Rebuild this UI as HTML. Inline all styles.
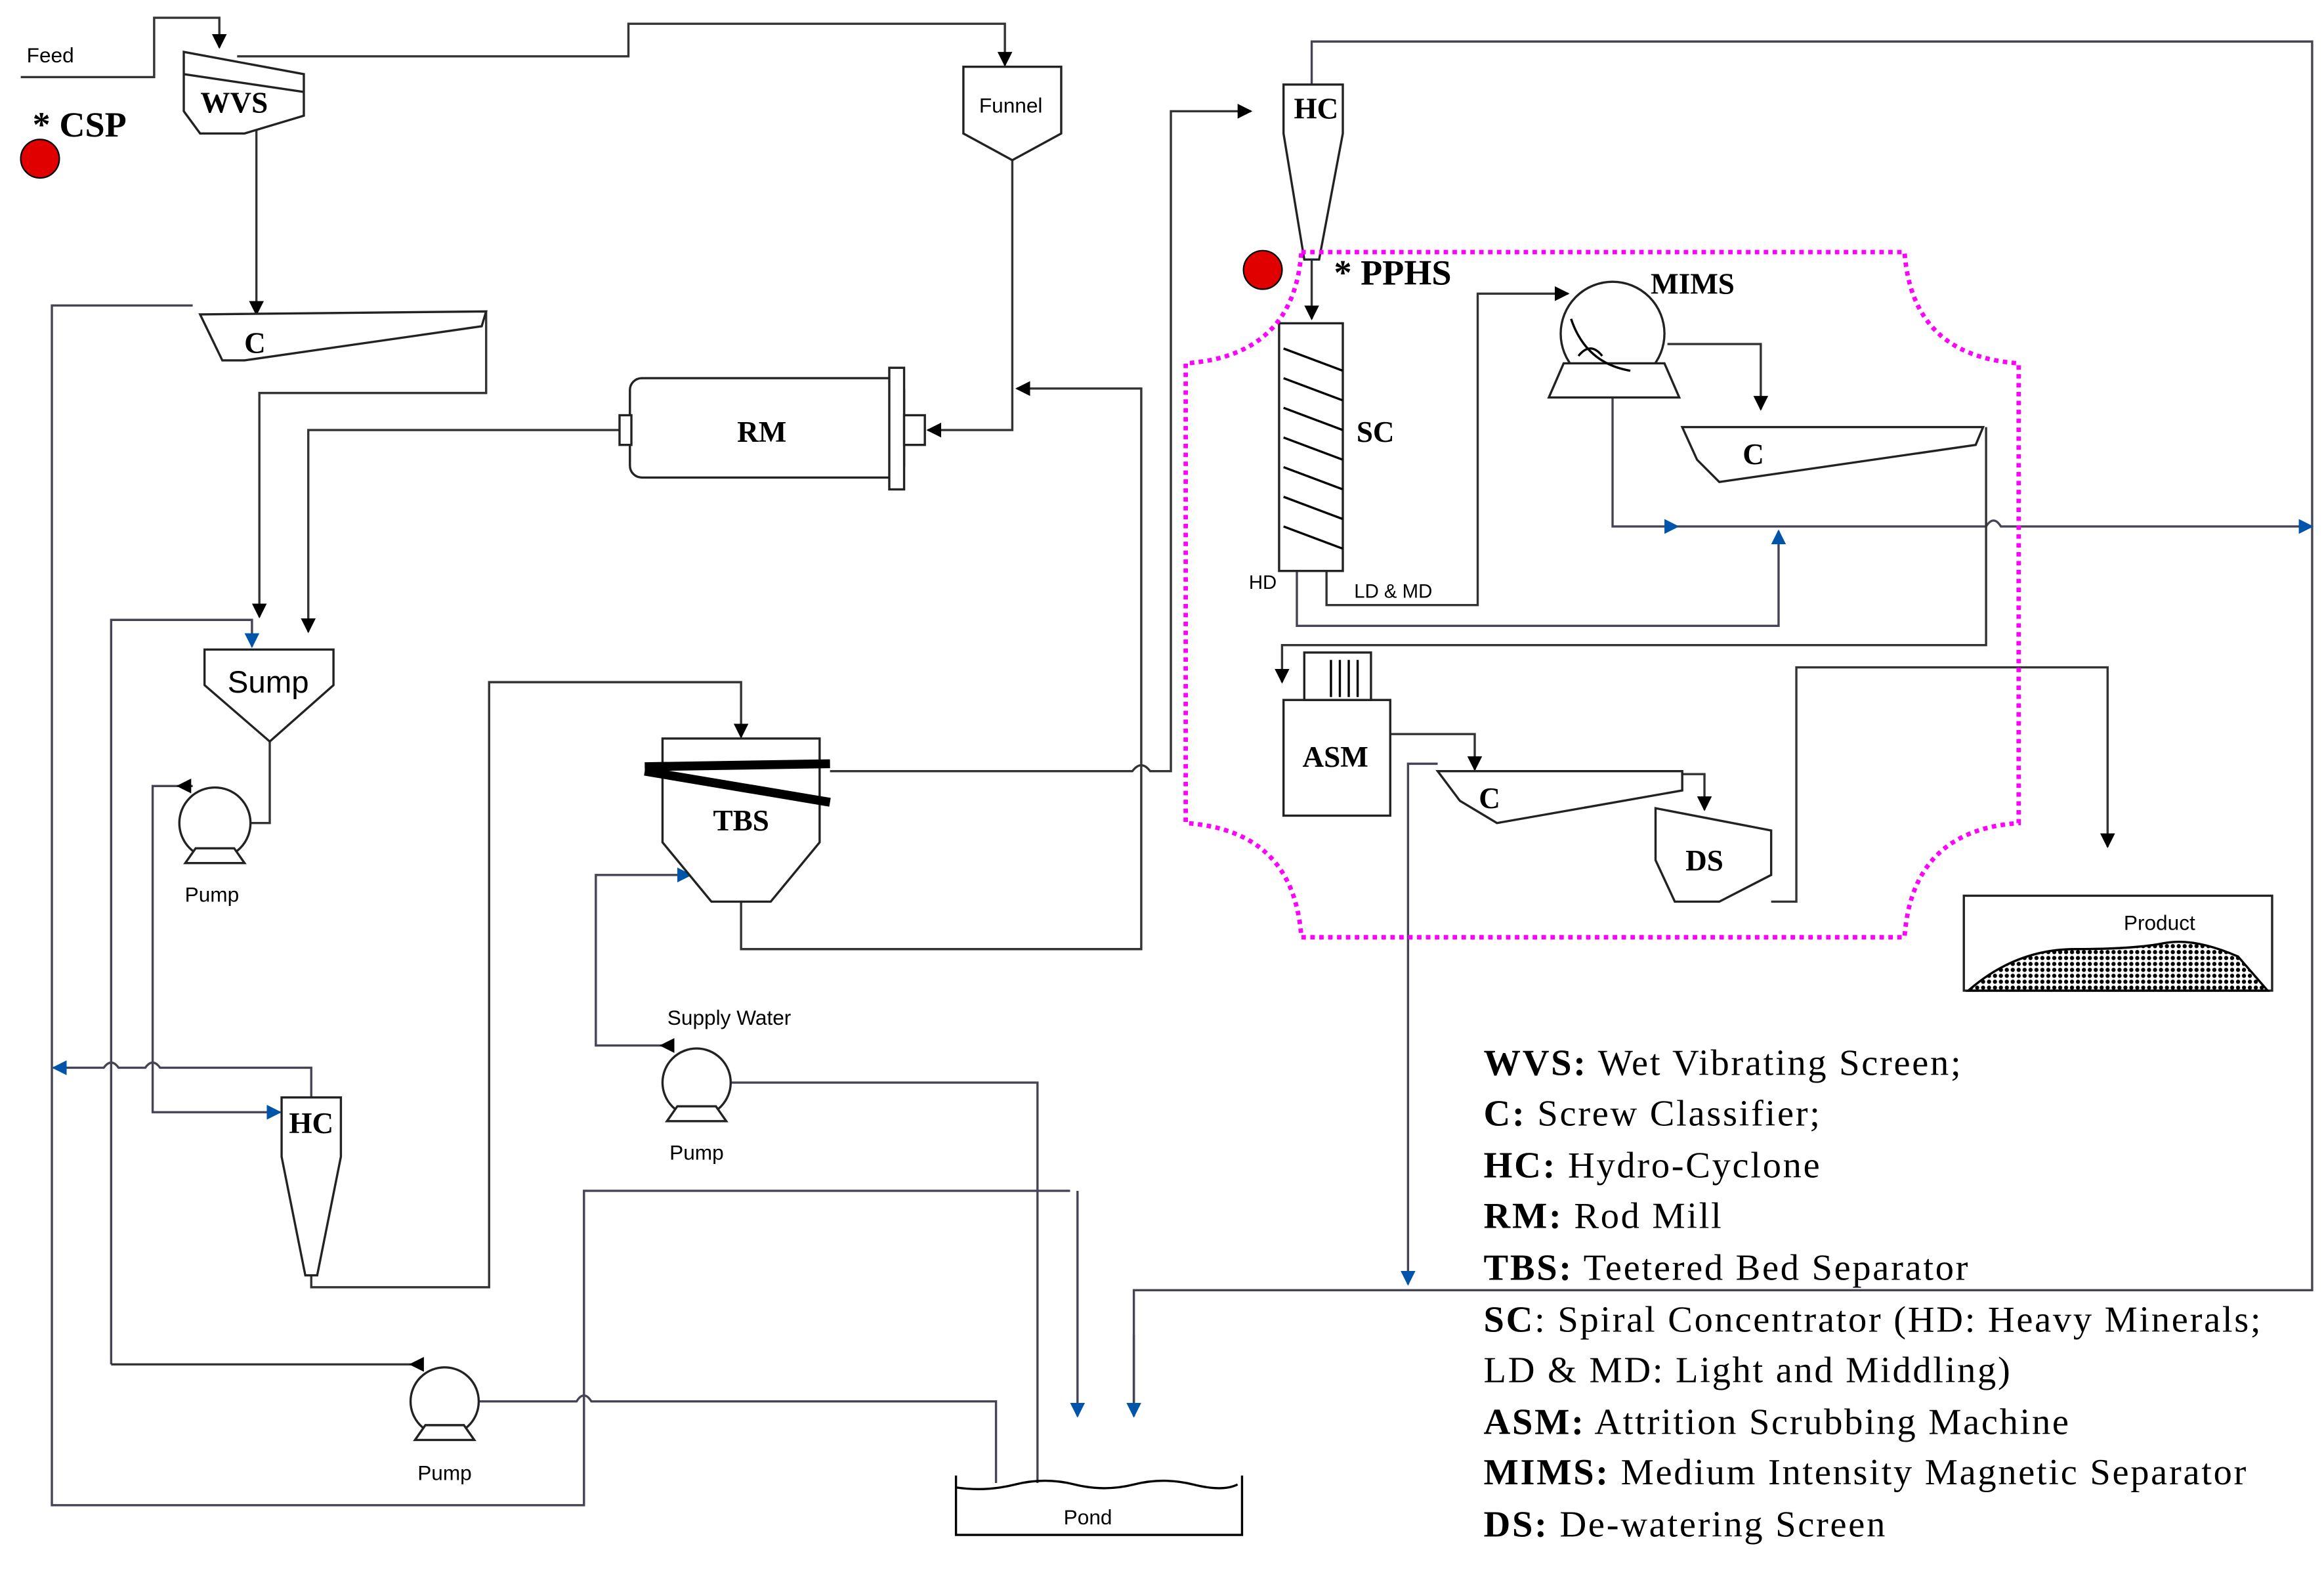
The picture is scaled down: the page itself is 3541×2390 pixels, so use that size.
<!DOCTYPE html>
<html><head><meta charset="utf-8"><style>
html,body{margin:0;padding:0;background:#fff;}
svg{display:block;}
.s{font-family:"Liberation Sans",sans-serif;}
.b{font-family:"Liberation Serif",serif;font-weight:bold;}
.r{font-family:"Liberation Serif",serif;}
</style></head><body>
<svg width="3541" height="2390" viewBox="0 0 1568 1058" preserveAspectRatio="none" xmlns="http://www.w3.org/2000/svg">
<defs>
<marker id="a" markerWidth="10" markerHeight="10" refX="9" refY="5" orient="auto" markerUnits="userSpaceOnUse"><path d="M0,0 L10,5 L0,10 z" fill="#000"/></marker>
<marker id="u" markerWidth="10" markerHeight="10" refX="9" refY="5" orient="auto" markerUnits="userSpaceOnUse"><path d="M0,0 L10,5 L0,10 z" fill="#0055aa"/></marker>
<pattern id="h" width="4" height="4" patternUnits="userSpaceOnUse"><rect width="4" height="4" fill="#fff"/><circle cx="2" cy="2" r="1.4" fill="#000"/></pattern>
</defs>
<g fill="none" stroke="#333" stroke-width="1.5">
<polyline points="14,52 104,52 104,12 148,12 148,32" marker-end="url(#a)"/>
<polyline points="160,38 424,38 424,16 678,16 678,44" marker-end="url(#a)"/>
<polyline points="173,85 173,212" marker-end="url(#a)"/>
<polyline points="683,108 683,290 626,290" marker-end="url(#a)"/>
<polyline points="130,206 35,206 35,1015 394,1015 394,803 722,803 Q727,798 732,803 L727,803 727,955" stroke="#445"/>
<polyline points="727,803 727,955" marker-end="url(#u)" stroke="#445"/>
<polyline points="328,210 328,265 175,265 175,416" marker-end="url(#a)"/>
<polyline points="418,290 208,290 208,426" marker-end="url(#a)"/>
<polyline points="75,920 75,418 170,418 170,436" marker-end="url(#u)" stroke="#445"/>
<polyline points="182,500 182,555 146,555" marker-end="url(#a)"/>
<polyline points="128,530 103,530 103,750 189,750" marker-end="url(#u)" stroke="#445"/>
<polyline points="130,530 120,530" marker-end="url(#a)"/>
<path d="M210,740 V720 H108 Q103,713 98,720 H80 Q75,713 70,720 H36" marker-end="url(#u)" stroke="#445"/>
<polyline points="210,860 210,868 330,868 330,460 500,460 500,497" marker-end="url(#a)"/>
<path d="M560,520 H764 Q770,512 776,520 H790 V75 H844" marker-end="url(#a)"/>
<polyline points="500,608 500,640 770,640 770,262 686,262" marker-end="url(#a)"/>
<polyline points="452,705 402,705 402,590 466,590" marker-end="url(#u)" stroke="#445"/>
<polyline points="455,705 446,705" marker-end="url(#a)"/>
<path d="M470,730 H700 V797 Q700,808 700,810 V1000" stroke="#445"/>
<polyline points="480,730 471,730" marker-end="url(#a)"/>
<polyline points="285,920 75,920"/>
<polyline points="285,920 277,920" marker-end="url(#a)"/>
<path d="M300,945 H389 Q394,937 399,945 H672 V1000" stroke="#445"/>
<polyline points="310,945 301,945" marker-end="url(#a)"/>
<polyline points="885,57 885,28 1560,28 1560,870 765,870 765,955" stroke="#445"/>
<polyline points="765,900 765,955" marker-end="url(#u)" stroke="#445"/>
<polyline points="885,175 885,215" marker-end="url(#a)"/>
<polyline points="875,385 875,422 1200,422 1200,358" marker-end="url(#u)" stroke="#445"/>
<polyline points="895,385 895,408 997,408 997,198 1058,198" marker-end="url(#a)"/>
<polyline points="1125,232 1188,232 1188,276" marker-end="url(#a)"/>
<polyline points="1088,268 1088,355 1132,355" marker-end="url(#u)" stroke="#445"/>
<path d="M1132,355 H1340 Q1345,347 1350,355 H1560" marker-end="url(#u)" stroke="#445"/>
<polyline points="1340,288 1340,435 865,435 865,460" marker-end="url(#a)"/>
<polyline points="938,495 995,495 995,519" marker-end="url(#a)"/>
<polyline points="1135,522 1150,522 1150,546" marker-end="url(#a)"/>
<polyline points="1195,608 1212,608 1212,450 1422,450 1422,571" marker-end="url(#a)"/>
<polyline points="970,515 950,515 950,866" marker-end="url(#u)" stroke="#445"/>
</g>
<g fill="#fff" stroke="#222" stroke-width="1.5">
<polygon points="124,35 205,50 205,78 165,90 135,90 124,75"/>
<line x1="124" y1="50" x2="205" y2="62"/>
<polygon points="650,45 716,45 716,90 683,108 650,90"/>
<polygon points="135,212 328,210 325,220 165,243 150,243"/>
<rect x="425" y="255" width="185" height="67" rx="8"/>
<rect x="418" y="280" width="8" height="20"/><rect x="600" y="248" width="10" height="82"/><rect x="610" y="280" width="14" height="20"/>
<polygon points="138,438 225,438 225,462 182,500 138,462"/>
<circle cx="145" cy="555" r="24"/><polygon points="125,582 165,582 158,572 132,572"/>
<polygon points="190,740 230,740 230,780 214,860 206,860 190,780"/>
<polygon points="447,498 553,498 553,568 520,608 480,608 447,568"/>
<circle cx="470" cy="730" r="23"/><polygon points="450,756 490,756 483,746 457,746"/>
<circle cx="300" cy="945" r="23"/><polygon points="280,971 320,971 313,961 287,961"/>
<polygon points="866,57 906,57 906,90 890,175 880,175 866,90"/>
<rect x="863" y="218" width="43" height="167"/>
<circle cx="1088" cy="225" r="35"/>
<polygon points="1045,268 1055,245 1123,245 1133,268"/>
<polygon points="1135,288 1338,288 1333,300 1160,325 1145,310"/>
<rect x="866" y="472" width="72" height="78"/>
<rect x="880" y="440" width="45" height="32"/>
<polygon points="970,520 1135,520 1135,533 1010,555 985,540"/>
<polygon points="1117,545 1195,560 1195,590 1160,608 1130,608 1117,580"/>
<rect x="1325" y="604" width="208" height="64"/>
</g>
<g stroke="#000" stroke-width="1.5" fill="none">
<line x1="435" y1="517" x2="560" y2="515" stroke-width="6"/><line x1="435" y1="520" x2="560" y2="541" stroke-width="6"/>
<path d="M866,235 L906,250 M866,255 L906,270 M866,275 L906,290 M866,295 L906,310 M866,315 L906,330 M866,335 L906,350 M866,355 L906,370"/>
<path d="M1060,215 q10,30 40,35 M1065,240 q8,-10 16,0"/>
<path d="M898,445 v25 M904,445 v25 M910,445 v25 M916,445 v25"/>
<path d="M645,995 v40 h193 v-40 M645,1003 q20,3 40,-2 t40,0 t40,0 t40,0 t30,0"/>
<path d="M1328,668 Q1360,640 1400,640 T1460,636 T1510,645 L1530,668 Z" fill="url(#h)"/>
</g>
<g fill="#e00000" stroke="#000" stroke-width="1"><circle cx="27" cy="107" r="13"/><circle cx="852" cy="182" r="13"/></g>
<path d="M878,170 H1285 Q1290,240 1362,245 V555 Q1290,560 1285,632 H878 Q873,560 800,555 V245 Q873,240 878,170 Z" fill="none" stroke="#ff00ff" stroke-width="3" stroke-dasharray="3,3"/>
<g fill="#000">
<text class="s" x="18" y="42" font-size="14">Feed</text>
<text class="b" x="158" y="76" font-size="20" text-anchor="middle">WVS</text>
<text class="b" x="22" y="92" font-size="24">* CSP</text>
<text class="s" x="682" y="76" font-size="14" text-anchor="middle">Funnel</text>
<text class="b" x="172" y="238" font-size="20" text-anchor="middle">C</text>
<text class="b" x="514" y="298" font-size="20" text-anchor="middle">RM</text>
<text class="s" x="181" y="467" font-size="21" text-anchor="middle">Sump</text>
<text class="s" x="143" y="608" font-size="14" text-anchor="middle">Pump</text>
<text class="b" x="210" y="764" font-size="20" text-anchor="middle">HC</text>
<text class="b" x="500" y="560" font-size="20" text-anchor="middle">TBS</text>
<text class="s" x="492" y="691" font-size="14" text-anchor="middle">Supply Water</text>
<text class="s" x="470" y="782" font-size="14" text-anchor="middle">Pump</text>
<text class="s" x="300" y="998" font-size="14" text-anchor="middle">Pump</text>
<text class="s" x="734" y="1028" font-size="14" text-anchor="middle">Pond</text>
<text class="b" x="888" y="80" font-size="20" text-anchor="middle">HC</text>
<text class="b" x="900" y="192" font-size="24">* PPHS</text>
<text class="b" x="1142" y="198" font-size="20" text-anchor="middle">MIMS</text>
<text class="b" x="928" y="298" font-size="20" text-anchor="middle">SC</text>
<text class="s" x="852" y="397" font-size="13" text-anchor="middle">HD</text>
<text class="s" x="940" y="403" font-size="13" text-anchor="middle">LD &amp; MD</text>
<text class="b" x="1183" y="313" font-size="20" text-anchor="middle">C</text>
<text class="b" x="901" y="517" font-size="20" text-anchor="middle">ASM</text>
<text class="b" x="1005" y="545" font-size="20" text-anchor="middle">C</text>
<text class="b" x="1150" y="587" font-size="20" text-anchor="middle">DS</text>
<text class="s" x="1457" y="627" font-size="14" text-anchor="middle">Product</text>
<g class="r" font-size="25" letter-spacing="1.2">
<text x="1001" y="725"><tspan font-weight="bold">WVS:</tspan> Wet Vibrating Screen;</text>
<text x="1001" y="759"><tspan font-weight="bold">C:</tspan> Screw Classifier;</text>
<text x="1001" y="794"><tspan font-weight="bold">HC:</tspan> Hydro-Cyclone</text>
<text x="1001" y="828"><tspan font-weight="bold">RM:</tspan> Rod Mill</text>
<text x="1001" y="863"><tspan font-weight="bold">TBS:</tspan> Teetered Bed Separator</text>
<text x="1001" y="898"><tspan font-weight="bold">SC</tspan>: Spiral Concentrator (HD: Heavy Minerals;</text>
<text x="1001" y="932">LD &amp; MD: Light and Middling)</text>
<text x="1001" y="967"><tspan font-weight="bold">ASM:</tspan> Attrition Scrubbing Machine</text>
<text x="1001" y="1001"><tspan font-weight="bold">MIMS:</tspan> Medium Intensity Magnetic Separator</text>
<text x="1001" y="1036"><tspan font-weight="bold">DS:</tspan> De-watering Screen</text>
</g>
</g>
</svg>
</body></html>
